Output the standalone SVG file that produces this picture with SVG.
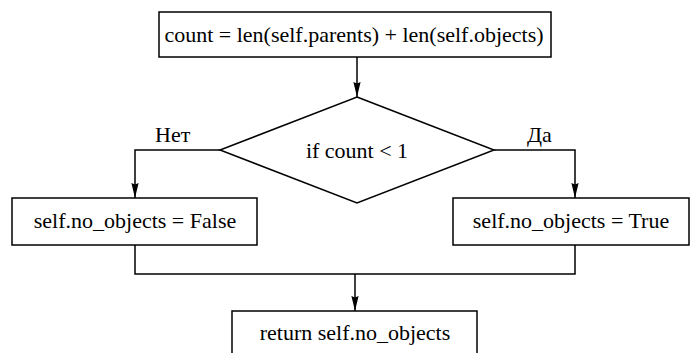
<svg xmlns="http://www.w3.org/2000/svg" width="691" height="353" viewBox="0 0 691 353">
  <style>
    .box { fill: #fff; stroke: #000; stroke-width: 1.5; }
    .lbl { font-family: "Liberation Serif", "Times New Roman", serif; font-size: 22px; fill: #000; }
    .mid { text-anchor: middle; }
    .edge { fill: none; stroke: #000; stroke-width: 1.5; }
  </style>
  <defs>
    <marker id="arrow" viewBox="0 0 15 8" refX="15" refY="4" markerWidth="15" markerHeight="8" markerUnits="userSpaceOnUse" orient="auto">
      <path d="M0,0.4 L15,4 L0,7.6 L1.5,4 Z" fill="#000"/>
    </marker>
  </defs>

  <!-- connectors -->
  <g id="edges">
    <path class="edge" d="M357,57 V97" marker-end="url(#arrow)"/>
    <path class="edge" d="M220,150 H135 V198" marker-end="url(#arrow)"/>
    <path class="edge" d="M494,150 H575 V198" marker-end="url(#arrow)"/>
    <path class="edge" d="M135,245 V274 H575 V245"/>
    <path class="edge" d="M355,274 V311" marker-end="url(#arrow)"/>
    <text class="lbl" x="155" y="142">Нет</text>
    <text class="lbl" x="527" y="142">Да</text>
  </g>

  <g id="start">
    <rect class="box" x="159" y="12" width="392" height="45"/>
    <text class="lbl mid" x="354" y="42">count = len(self.parents) + len(self.objects)</text>
  </g>

  <g id="check">
    <polygon class="box" points="357,97 494,150 357,203 220,150"/>
    <text class="lbl mid" x="357" y="158">if count &lt; 1</text>
  </g>

  <g id="set-false">
    <rect class="box" x="12" y="198" width="245" height="47"/>
    <text class="lbl mid" x="135" y="228">self.no_objects = False</text>
  </g>

  <g id="set-true">
    <rect class="box" x="453" y="198" width="236" height="47"/>
    <text class="lbl mid" x="571" y="228">self.no_objects = True</text>
  </g>

  <g id="return">
    <rect class="box" x="232" y="311" width="245" height="60"/>
    <text class="lbl mid" x="355" y="340">return self.no_objects</text>
  </g>
</svg>
